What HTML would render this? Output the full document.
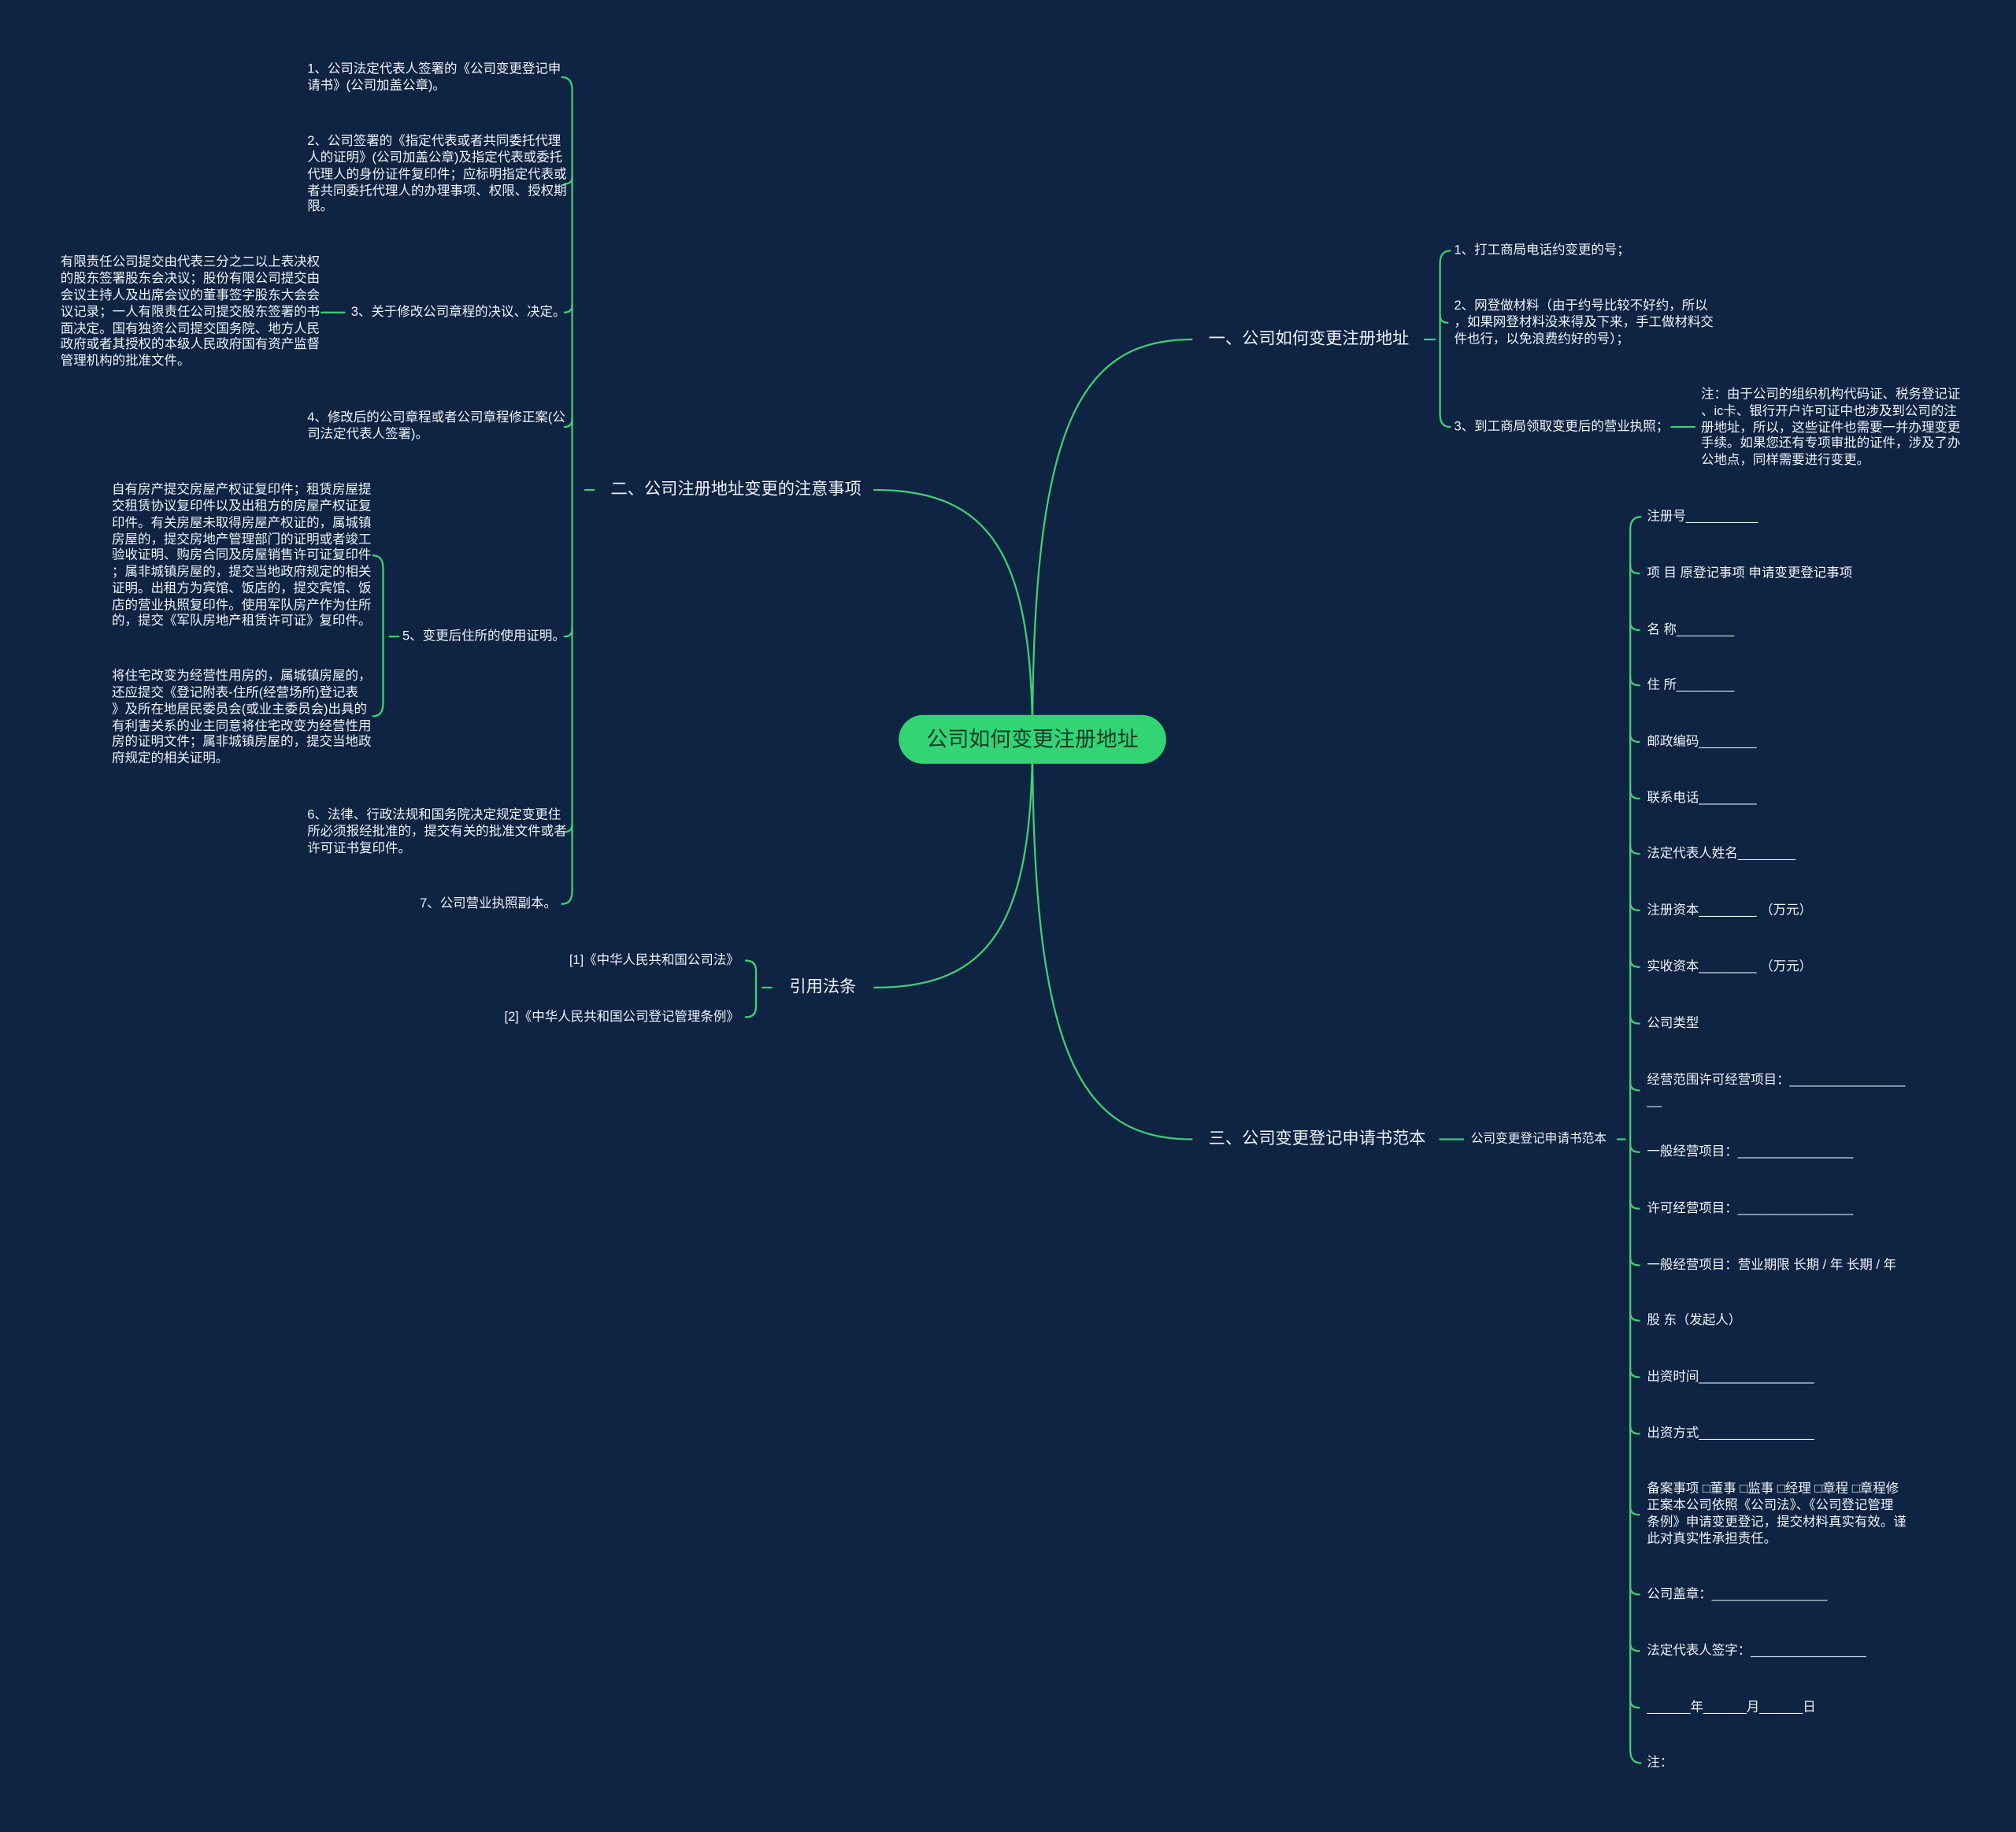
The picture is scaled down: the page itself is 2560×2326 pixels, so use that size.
<!DOCTYPE html>
<html><head><meta charset="utf-8"><style>
html,body{margin:0;padding:0;background:#0f2342;}
svg{display:block}
text{font-family:"Liberation Sans","Noto Sans CJK SC",sans-serif;fill:#eef3f8;dominant-baseline:middle}
.s{font-size:10.1px}
.m{font-size:13px}
</style></head><body>
<svg width="2560" height="2326" viewBox="0 0 1568 1424.7" xmlns="http://www.w3.org/2000/svg">
<rect width="1568" height="1424.7" fill="#0f2342"/>
<g fill="none" stroke="#3ecf76" stroke-width="1.4" stroke-linecap="round">
<!-- main curves -->
<path d="M803,575 C803,330 840,264 927,264"/>
<path d="M803,575 C803,430 770,381 680,381"/>
<path d="M803,575 C803,720 770,768 680,768"/>
<path d="M803,575 C803,820 840,886 927,886"/>
<!-- branch 1 -->
<path d="M1108,264 H1116"/>
<path d="M1128,195 Q1120,195 1120,205 V322 Q1120,332 1128,332"/>
<path d="M1120,245 Q1120,251 1126,251"/>
<path d="M1300,332 H1318"/>
<!-- branch 2 -->
<path d="M455,381 H462"/>
<path d="M437,60 Q445,60 445,70 V693 Q445,703 437,703"/>
<path d="M445,138 Q445,143 439,143"/>
<path d="M445,237 Q445,243 439,243"/>
<path d="M445,326 Q445,332 439,332"/>
<path d="M445,489 Q445,495 439,495"/>
<path d="M445,641 Q445,647 439,647"/>
<path d="M250,243 H268"/>
<path d="M303,495 H310"/>
<path d="M290,432 Q298,432 298,442 V547 Q298,557 290,557"/>
<!-- branch 3 -->
<path d="M593,768 H600"/>
<path d="M580,747 Q588,747 588,755 V783 Q588,791 580,791"/>
<!-- branch 4 -->
<path d="M1120,886 H1138"/>
<path d="M1258,886 H1264"/>
<path d="M1276,402 Q1268,402 1268,412 V1361 Q1268,1371 1276,1371"/>
<path d="M1268,440 Q1268,446 1275,446"/>
<path d="M1268,484 Q1268,490 1275,490"/>
<path d="M1268,527 Q1268,533 1275,533"/>
<path d="M1268,571 Q1268,577 1275,577"/>
<path d="M1268,615 Q1268,621 1275,621"/>
<path d="M1268,658 Q1268,664 1275,664"/>
<path d="M1268,702 Q1268,708 1275,708"/>
<path d="M1268,746 Q1268,752 1275,752"/>
<path d="M1268,790 Q1268,796 1275,796"/>
<path d="M1268,842 Q1268,848 1275,848"/>
<path d="M1268,890 Q1268,896 1275,896"/>
<path d="M1268,934 Q1268,940 1275,940"/>
<path d="M1268,978 Q1268,984 1275,984"/>
<path d="M1268,1021 Q1268,1027 1275,1027"/>
<path d="M1268,1065 Q1268,1071 1275,1071"/>
<path d="M1268,1109 Q1268,1115 1275,1115"/>
<path d="M1268,1172 Q1268,1178 1275,1178"/>
<path d="M1268,1234 Q1268,1240 1275,1240"/>
<path d="M1268,1278 Q1268,1284 1275,1284"/>
<path d="M1268,1322 Q1268,1328 1275,1328"/>
</g>
<!-- center -->
<rect x="699" y="556" width="208" height="38" rx="19" fill="#33d474"/>
<text x="803" y="576" text-anchor="middle" style="font-size:16.5px;fill:#173a28">公司如何变更注册地址</text>
<!-- main branches -->
<text class="m" x="940" y="264">一、公司如何变更注册地址</text>
<text class="m" x="475" y="381">二、公司注册地址变更的注意事项</text>
<text class="m" x="614" y="768">引用法条</text>
<text class="m" x="940" y="886">三、公司变更登记申请书范本</text>
<!-- branch 1 children -->
<g class="s">
<text x="1131" y="195">1、打工商局电话约变更的号；</text>
<text x="1131" y="238">2、网登做材料（由于约号比较不好约，所以</text>
<text x="1131" y="251">，如果网登材料没来得及下来，手工做材料交</text>
<text x="1131" y="264">件也行，以免浪费约好的号）；</text>
<text x="1131" y="332">3、到工商局领取变更后的营业执照；</text>
<text x="1323" y="307">注：由于公司的组织机构代码证、税务登记证</text>
<text x="1323" y="320">、ic卡、银行开户许可证中也涉及到公司的注</text>
<text x="1323" y="333">册地址，所以，这些证件也需要一并办理变更</text>
<text x="1323" y="345">手续。如果您还有专项审批的证件，涉及了办</text>
<text x="1323" y="358">公地点，同样需要进行变更。</text>
</g>
<!-- branch 2 children -->
<g class="s">
<text x="239" y="54">1、公司法定代表人签署的《公司变更登记申</text>
<text x="239" y="67">请书》(公司加盖公章)。</text>
<text x="239" y="110">2、公司签署的《指定代表或者共同委托代理</text>
<text x="239" y="123">人的证明》(公司加盖公章)及指定代表或委托</text>
<text x="239" y="136">代理人的身份证件复印件；应标明指定代表或</text>
<text x="239" y="149">者共同委托代理人的办理事项、权限、授权期</text>
<text x="239" y="161">限。</text>
<text x="273" y="243">3、关于修改公司章程的决议、决定。</text>
<text x="47" y="204">有限责任公司提交由代表三分之二以上表决权</text>
<text x="47" y="217">的股东签署股东会决议；股份有限公司提交由</text>
<text x="47" y="230">会议主持人及出席会议的董事签字股东大会会</text>
<text x="47" y="243">议记录；一人有限责任公司提交股东签署的书</text>
<text x="47" y="256">面决定。国有独资公司提交国务院、地方人民</text>
<text x="47" y="268">政府或者其授权的本级人民政府国有资产监督</text>
<text x="47" y="281">管理机构的批准文件。</text>
<text x="239" y="325">4、修改后的公司章程或者公司章程修正案(公</text>
<text x="239" y="338">司法定代表人签署)。</text>
<text x="313" y="495">5、变更后住所的使用证明。</text>
<text x="87" y="381">自有房产提交房屋产权证复印件；租赁房屋提</text>
<text x="87" y="394">交租赁协议复印件以及出租方的房屋产权证复</text>
<text x="87" y="407">印件。有关房屋未取得房屋产权证的，属城镇</text>
<text x="87" y="420">房屋的，提交房地产管理部门的证明或者竣工</text>
<text x="87" y="432">验收证明、购房合同及房屋销售许可证复印件</text>
<text x="87" y="445">；属非城镇房屋的，提交当地政府规定的相关</text>
<text x="87" y="458">证明。出租方为宾馆、饭店的，提交宾馆、饭</text>
<text x="87" y="471">店的营业执照复印件。使用军队房产作为住所</text>
<text x="87" y="483">的，提交《军队房地产租赁许可证》复印件。</text>
<text x="87" y="526">将住宅改变为经营性用房的，属城镇房屋的，</text>
<text x="87" y="539">还应提交《登记附表-住所(经营场所)登记表</text>
<text x="87" y="552">》及所在地居民委员会(或业主委员会)出具的</text>
<text x="87" y="565">有利害关系的业主同意将住宅改变为经营性用</text>
<text x="87" y="577">房的证明文件；属非城镇房屋的，提交当地政</text>
<text x="87" y="590">府规定的相关证明。</text>
<text x="239" y="634">6、法律、行政法规和国务院决定规定变更住</text>
<text x="239" y="647">所必须报经批准的，提交有关的批准文件或者</text>
<text x="239" y="660">许可证书复印件。</text>
<text x="433" y="703" text-anchor="end">7、公司营业执照副本。</text>
</g>
<!-- branch 3 children -->
<g class="s">
<text x="575" y="747" text-anchor="end">[1]《中华人民共和国公司法》</text>
<text x="575" y="791" text-anchor="end">[2]《中华人民共和国公司登记管理条例》</text>
</g>
<!-- branch 4 children -->
<g class="s">
<text x="1144" y="886" style="font-size:9.6px">公司变更登记申请书范本</text>
<text x="1281" y="402">注册号__________</text>
<text x="1281" y="446">项 目 原登记事项 申请变更登记事项</text>
<text x="1281" y="490">名 称________</text>
<text x="1281" y="533">住 所________</text>
<text x="1281" y="577">邮政编码________</text>
<text x="1281" y="621">联系电话________</text>
<text x="1281" y="664">法定代表人姓名________</text>
<text x="1281" y="708">注册资本________ （万元）</text>
<text x="1281" y="752">实收资本________ （万元）</text>
<text x="1281" y="796">公司类型</text>
<text x="1281" y="840">经营范围许可经营项目：________________</text>
<text x="1281" y="856">__</text>
<text x="1281" y="896">一般经营项目：________________</text>
<text x="1281" y="940">许可经营项目：________________</text>
<text x="1281" y="984">一般经营项目：营业期限 长期 / 年 长期 / 年</text>
<text x="1281" y="1027">股 东（发起人）</text>
<text x="1281" y="1071">出资时间________________</text>
<text x="1281" y="1115">出资方式________________</text>
<text x="1281" y="1158">备案事项 □董事 □监事 □经理 □章程 □章程修</text>
<text x="1281" y="1171">正案本公司依照《公司法》、《公司登记管理</text>
<text x="1281" y="1184">条例》申请变更登记，提交材料真实有效。谨</text>
<text x="1281" y="1197">此对真实性承担责任。</text>
<text x="1281" y="1240">公司盖章：________________</text>
<text x="1281" y="1284">法定代表人签字：________________</text>
<text x="1281" y="1328">______年______月______日</text>
<text x="1281" y="1371">注：</text>
</g>
</svg>
</body></html>
